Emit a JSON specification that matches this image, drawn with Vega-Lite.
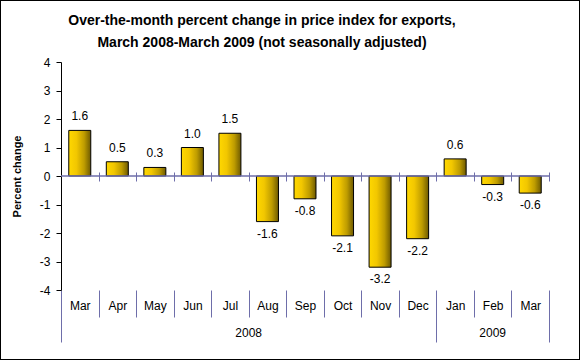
{
  "$schema": "https://vega.github.io/schema/vega-lite/v6.json",
  "width": 580,
  "height": 360,
  "autosize": {"type": "fit", "contains": "padding"},
  "padding": 0,
  "background": "white",
  "config": {
    "font": "Liberation Sans",
    "view": {"stroke": "black", "strokeWidth": 2},
    "axis": {"grid": false, "labelFont": "Liberation Sans", "labelFontSize": 12, "labelColor": "black", "titleFont": "Liberation Sans"}
  },
  "title": {
    "text": ["Over-the-month percent change in price index for exports,", "March 2008-March 2009 (not seasonally adjusted)"],
    "font": "Liberation Sans",
    "fontSize": 14,
    "fontWeight": "bold",
    "color": "black",
    "lineHeight": 22,
    "anchor": "middle",
    "frame": "group",
    "baseline": "bottom",
    "offset": -64,
    "dx": -28
  },
  "data": {
    "values": [
      {"key": "2008-03", "month": "Mar", "year": "2008", "v": 1.6},
      {"key": "2008-04", "month": "Apr", "year": "2008", "v": 0.5},
      {"key": "2008-05", "month": "May", "year": "2008", "v": 0.3},
      {"key": "2008-06", "month": "Jun", "year": "2008", "v": 1.0},
      {"key": "2008-07", "month": "Jul", "year": "2008", "v": 1.5},
      {"key": "2008-08", "month": "Aug", "year": "2008", "v": -1.6},
      {"key": "2008-09", "month": "Sep", "year": "2008", "v": -0.8},
      {"key": "2008-10", "month": "Oct", "year": "2008", "v": -2.1},
      {"key": "2008-11", "month": "Nov", "year": "2008", "v": -3.2},
      {"key": "2008-12", "month": "Dec", "year": "2008", "v": -2.2},
      {"key": "2009-01", "month": "Jan", "year": "2009", "v": 0.6},
      {"key": "2009-02", "month": "Feb", "year": "2009", "v": -0.3},
      {"key": "2009-03", "month": "Mar", "year": "2009", "v": -0.6}
    ]
  },
  "transform": [
    {"calculate": "replace(format(datum.v, '.1f'), '\u2212', '-')", "as": "lbl"}
  ],
  "layer": [
    {
      "mark": {
        "type": "bar",
        "width": {"band": 0.586},
        "stroke": "black",
        "strokeWidth": 1,
        "fill": {
          "gradient": "linear", "x1": 0, "x2": 1, "y1": 0, "y2": 0,
          "stops": [
            {"offset": 0, "color": "#FFD800"},
            {"offset": 0.35, "color": "#F2C700"},
            {"offset": 0.7, "color": "#BE9C00"},
            {"offset": 1, "color": "#6E5A00"}
          ]
        }
      },
      "encoding": {
        "x": {
          "field": "key", "type": "nominal",
          "scale": {"domain": ["2008-03","2008-04","2008-05","2008-06","2008-07","2008-08","2008-09","2008-10","2008-11","2008-12","2009-01","2009-02","2009-03"], "range": [61, 549], "paddingInner": 0, "paddingOuter": 0},
          "axis": {
            "orient": "bottom", "offset": -70, "title": null, "domain": false,
            "tickBand": "extent", "tickColor": "#6E6EAA", "tickWidth": 1,
            "tickSize": {"condition": {"test": "datum.extra || datum.value == '2008-12' || datum.value == '2009-03'", "value": 52}, "value": 27},
            "labelPadding": {"condition": {"test": "datum.extra || datum.value == '2008-12' || datum.value == '2009-03'", "value": -42}, "value": -17},
            "labelAngle": 0, "labelBaseline": "top",
            "labelExpr": "datum.value ? ['Jan','Feb','Mar','Apr','May','Jun','Jul','Aug','Sep','Oct','Nov','Dec'][toNumber(substring(datum.value,5,7))-1] : ''"
          }
        },
        "y": {
          "field": "v", "type": "quantitative",
          "scale": {"domain": [-4, 4], "range": [290, 62], "nice": false, "zero": false},
          "axis": {
            "orient": "left", "offset": -61, "values": [-4,-3,-2,-1,0,1,2,3,4],
            "domain": true, "domainColor": "black", "domainWidth": 1,
            "tickColor": "black", "tickSize": 5, "labelPadding": 6,
            "labelExpr": "replace(datum.label, '\u2212', '-')",
            "title": "Percent change", "titleFontSize": 11, "titleFontWeight": "bold", "titleColor": "black",
            "titlePadding": 17
          }
        }
      }
    },
    {
      "data": {"values": [{}]},
      "mark": {"type": "rule", "color": "#6E6EAA", "strokeWidth": 1.5},
      "encoding": {
        "x": {"datum": "2008-03", "type": "nominal", "bandPosition": 0, "axis": null},
        "x2": {"datum": "2009-03", "bandPosition": 1},
        "y": {"datum": 0, "type": "quantitative"}
      }
    },
    {
      "transform": [{"filter": "datum.v >= 0"}],
      "mark": {"type": "text", "baseline": "bottom", "dy": -7, "fontSize": 12, "color": "black"},
      "encoding": {
        "x": {
          "field": "key", "type": "nominal",
          "axis": {"orient": "bottom", "offset": -188, "title": null, "domain": false, "labels": false, "tickBand": "extent", "tickColor": "#6E6EAA", "tickWidth": 1, "tickSize": 9}
        },
        "y": {"field": "v", "type": "quantitative"},
        "text": {"field": "lbl"}
      }
    },
    {
      "transform": [{"filter": "datum.v < 0"}],
      "mark": {"type": "text", "baseline": "top", "dy": 7, "fontSize": 12, "color": "black"},
      "encoding": {
        "x": {"field": "key", "type": "nominal", "axis": null},
        "y": {"field": "v", "type": "quantitative"},
        "text": {"field": "lbl"}
      }
    },
    {
      "transform": [{"filter": "datum.key == '2008-08'"}],
      "mark": {"type": "text", "baseline": "middle", "fontSize": 12, "color": "black"},
      "encoding": {
        "x": {"field": "key", "type": "nominal", "bandPosition": 0, "axis": null},
        "y": {"datum": -5.51, "type": "quantitative"},
        "text": {"field": "year"}
      }
    },
    {
      "transform": [{"filter": "datum.key == '2009-02'"}],
      "mark": {"type": "text", "baseline": "middle", "fontSize": 12, "color": "black"},
      "encoding": {
        "x": {"field": "key", "type": "nominal", "bandPosition": 0.5, "axis": null},
        "y": {"datum": -5.51, "type": "quantitative"},
        "text": {"field": "year"}
      }
    }
  ],
  "resolve": {"axis": {"x": "independent"}}
}
